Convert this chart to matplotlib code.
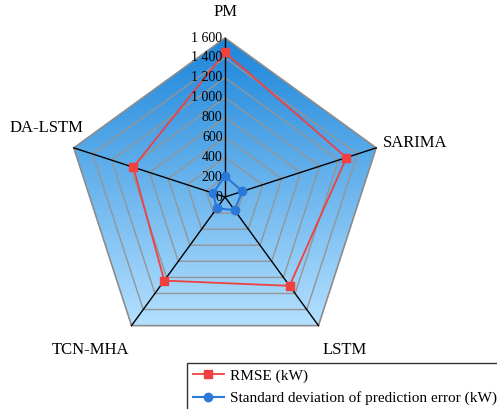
import matplotlib.pyplot as plt
import numpy as np
from matplotlib.colors import LinearSegmentedColormap
from matplotlib.patches import Polygon

plt.rcParams['font.family'] = ['Liberation Serif', 'DejaVu Serif']

modeller = ['PM', 'SARIMA', 'LSTM', 'TCN-MHA', 'DA-LSTM']
rmse = [1455, 1285, 1105, 1040, 970]
std_feil = [212, 182, 163, 141, 127]
ringer = np.arange(200, 1800, 200)
tick_verdier = np.arange(0, 1800, 200)
tick_tekst = ['0', '200', '400', '600', '800', '1 000', '1 200', '1 400', '1 600']
rmax = 1600

# vinkler, start rett opp og med klokka
n = len(modeller)
vinkler = np.pi / 2 - np.arange(n) * 2 * np.pi / n


def xy(verdier):
    v = np.asarray(verdier, dtype=float)
    return v * np.cos(vinkler), v * np.sin(vinkler)


fig = plt.figure(figsize=(4.97, 4.09), dpi=100)
ax = fig.add_axes([0, 0, 1, 1])
k = rmax / 159.0
ax.set_xlim(-225 * k, (497 - 225) * k)
ax.set_ylim(-212 * k, 197 * k)
ax.axis('off')


def piksel(x, y):
    # fra piksler (fra øvre venstre hjørne) til dataenheter
    return (x - 225) * k, (197 - y) * k


# bakgrunn med gradient
px, py = xy([rmax] * n)
ramme = Polygon(np.column_stack([px, py]), closed=True, facecolor='none',
                edgecolor='#8c8c8c', lw=1.2, zorder=3)
ax.add_patch(ramme)
cmap = LinearSegmentedColormap.from_list('bla', ['#b4e0ff', '#1c86da'])
grad = np.linspace(0, 1, 256).reshape(-1, 1)
bilde = ax.imshow(grad, cmap=cmap, origin='lower', aspect='auto',
                  extent=[px.min(), px.max(), py.min(), py.max()], zorder=1)
bilde.set_clip_path(ramme)

# rutenett
for r in ringer[:-1]:
    gx, gy = xy([r] * n)
    ax.plot(np.append(gx, gx[0]), np.append(gy, gy[0]), color='#959595', lw=1, zorder=2)

# eiker
for x, y in zip(px, py):
    ax.plot([0, x], [0, y], color='black', lw=1, zorder=4)

# akseverdier
for v, t in zip(tick_verdier, tick_tekst):
    ax.text(-25, v, t, ha='right', va='center', fontsize=10, zorder=6)

# navn på modellene
plasser = [(226, 12), (415, 143), (345, 350), (90, 350), (46, 128)]
for navn, (x, y) in zip(modeller, plasser):
    ax.text(*piksel(x, y), navn, ha='center', va='center', fontsize=12)

# serier
rx, ry = xy(rmse)
ax.plot(np.append(rx, rx[0]), np.append(ry, ry[0]), color='#f04040', lw=1.3,
        marker='s', ms=6, markevery=list(range(n)), label='RMSE (kW)', zorder=5)
sx, sy = xy(std_feil)
ax.plot(np.append(sx, sx[0]), np.append(sy, sy[0]), color='#2a78d8', lw=1.5,
        marker='o', ms=6, markevery=list(range(n)),
        label='Standard deviation of prediction error (kW)', zorder=5)

leg = ax.legend(loc='lower right', bbox_to_anchor=(1.012, -0.006), fontsize=11,
                frameon=True, fancybox=False, edgecolor='black',
                borderpad=0.4, labelspacing=0.55, handlelength=2.0,
                handletextpad=0.4, borderaxespad=0)
leg.get_frame().set_linewidth(1.0)

fig.savefig('out.png', dpi=100)
